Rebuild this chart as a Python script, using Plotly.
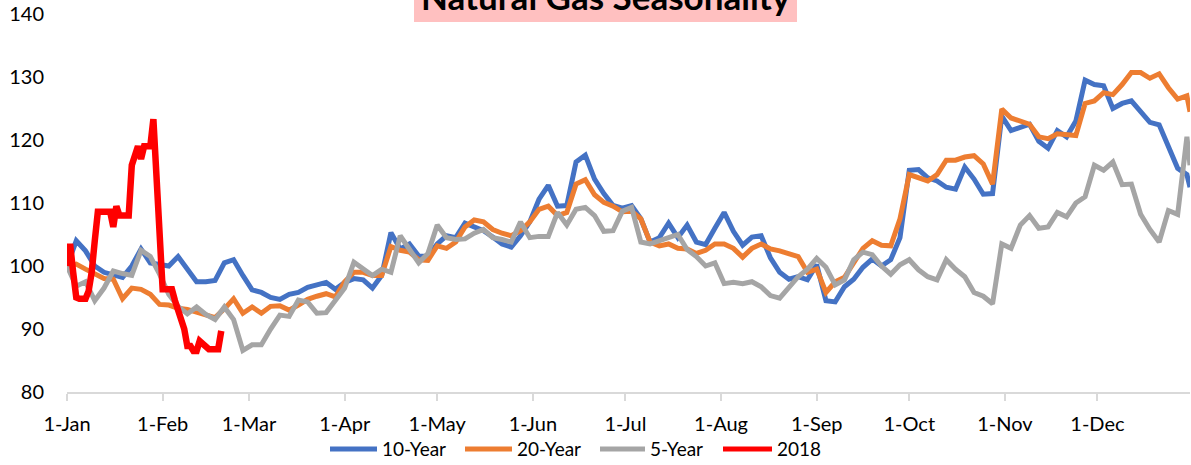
import pandas as pd
import plotly.graph_objects as go

# Seasonal index (1-Jan = 100), sampled every third calendar day through year end
grid_dates = list(pd.date_range("2018-01-01", "2018-12-30", freq="3D")) + [pd.Timestamp("2018-12-31")]

ten_year = [
    100, 104, 102.4, 100, 99, 98.5, 98.2, 100, 102.7, 100.5, 100.3, 100, 101.5, 99.5, 97.5, 97.5,
    97.7, 100.5, 101, 98.5, 96.2, 95.8, 95, 94.7, 95.5, 95.8, 96.6, 97, 97.4, 96.3, 97.4, 98,
    97.8, 96.5, 98.5, 105.3, 102.7, 103.5, 101.6, 101.5, 103.5, 104.8, 104.5, 106.8, 106.2, 105.6,
    104.6, 103.5, 103, 104.8, 107, 110.6, 112.8, 109.5, 109.6, 116.5, 117.6, 113.8, 111.5, 109.6,
    109.2, 109.6, 107.5, 103.8, 104.5, 106.8, 104.5, 106.5, 103.8, 103.4, 106, 108.5, 105.5, 103.3,
    104.6, 104.8, 101.3, 99, 97.9, 98.3, 97.8, 100.2, 94.5, 94.3, 96.7, 97.9, 99.8, 101.1, 100,
    101, 104.5, 115.2, 115.3, 114, 113.5, 112.5, 112.2, 115.7, 113.8, 111.4, 111.5, 123.8, 121.5,
    122, 122.5, 119.8, 118.7, 121.5, 120.5, 123, 129.5, 128.8, 128.6, 125, 125.8, 126.2, 124.5,
    122.8, 122.4, 119, 115.5, 114.5, 112.5,
]

twenty_year = [
    100, 100.3, 99.5, 98.8, 98, 97.9, 94.8, 96.5, 96.3, 95.5, 93.9, 93.8, 93.3, 93.1, 92.7, 92.2,
    91.8, 93.2, 94.8, 92.5, 93.5, 92.5, 93.6, 93.7, 93, 93.8, 94.7, 95.2, 95.6, 95.1, 97.5, 99,
    99, 98.5, 98.5, 103.1, 102.5, 102.2, 101, 100.9, 103.2, 102.8, 103.8, 106.2, 107.3, 107,
    105.8, 105.2, 104.8, 105.6, 107, 109, 109.5, 108, 108.5, 113, 113.7, 111.3, 110.1, 109.5,
    108.6, 108.7, 107.5, 103.8, 103.2, 103.5, 102.8, 102.7, 102, 102.5, 103.5, 103.5, 102.8, 101.4,
    102.8, 103.5, 102.7, 102.4, 101.9, 101.5, 99, 99.5, 95.8, 97.5, 98.2, 100.6, 102.8, 104, 103.3,
    103.2, 107.5, 114.5, 114.1, 113.5, 114.5, 116.8, 116.8, 117.3, 117.5, 116.2, 113, 124.9, 123.5,
    123, 122.5, 120.5, 120.2, 121, 120.9, 120.7, 125.8, 126.2, 127.5, 127.2, 128.8, 130.7, 130.7,
    129.8, 130.5, 128.3, 126.5, 127, 124.5,
]

five_year = [
    100, 96.8, 97.5, 94.5, 96.5, 99.2, 98.8, 98.5, 102.5, 101.5, 98.7, 95.5, 93.6, 92.4, 93.5, 92.3,
    91.5, 93.5, 91.5, 86.6, 87.5, 87.5, 90, 92.2, 92, 94.6, 94.3, 92.5, 92.6, 94.5, 96.5, 100.6,
    99.6, 98.5, 99.5, 99, 104.8, 102.5, 100.5, 102, 106.5, 104.5, 104.2, 104.3, 105.2, 105.8,
    104.5, 104.2, 103.8, 107, 104.5, 104.7, 104.7, 108.5, 106.5, 109, 109.3, 108, 105.5, 105.6,
    108.7, 109.3, 103.8, 103.5, 104, 104.5, 105, 102.6, 101.5, 100, 100.5, 97.2, 97.4, 97.2,
    97.5, 96.7, 95.3, 94.9, 96.5, 98.3, 99.5, 101.2, 99.8, 97, 97.8, 101, 102.2, 101.8, 100,
    98.7, 100.2, 101, 99.4, 98.3, 97.8, 101, 99.5, 98.3, 95.8, 95.2, 94, 103.5, 102.8,
    106.5, 108, 106, 106.2, 108.5, 107.8, 110, 111, 116, 115.2, 116.5, 112.9, 113, 108.2,
    105.8, 103.8, 108.8, 108.2, 120.5, 116,
]

# Current year, daily from 1-Jan to 20-Feb
dates_2018 = list(pd.date_range("2018-01-01", "2018-02-20", freq="D"))
year_2018 = [
    100, 103.5, 99, 95, 94.8, 94.8, 94.8, 96, 99, 104, 108.6, 108.6, 108.6, 108.6, 108.6,
    106.2, 109.5, 108, 108, 108, 108, 116, 118, 119, 117, 119, 119, 119, 123.3, 114, 104.8,
    96.3, 96.3, 96.3, 96.3, 94.5, 93.2, 91.6, 90, 87.3, 87.3, 86.5, 86.5, 88.1, 87.6, 87.3,
    86.8, 86.8, 86.8, 86.8, 89.7,
]

series_names = ["10-Year", "20-Year", "5-Year", "2018"]
series_colors = ["#4472C4", "#ED7D31", "#A5A5A5", "#FF0000"]
series_widths = [5, 5, 5, 6.5]
y_ticks = [80, 90, 100, 110, 120, 130, 140]

W, H = 1191, 465
M_L, M_R, M_T, M_B = 67, 1, 14, 73
PW, PH = W - M_L - M_R, H - M_T - M_B


def px(x):
    return (x - M_L) / PW


def py(y):
    return (H - M_B - y) / PH


fig = go.Figure()
xs = [grid_dates, grid_dates, grid_dates, dates_2018]
ys = [ten_year, twenty_year, five_year, year_2018]
for name, color, width, x, y in zip(series_names, series_colors, series_widths, xs, ys):
    fig.add_trace(go.Scatter(
        x=x, y=y, name=name, mode="lines",
        line=dict(color=color, width=width),
        showlegend=False,
    ))

# Title banner
fig.add_shape(type="rect", xref="paper", yref="paper",
              x0=px(414), x1=px(797), y0=py(22), y1=py(-10),
              fillcolor="#FFC0C0", line=dict(width=0), layer="below")
fig.add_annotation(text="<b>Natural Gas Seasonality</b>", xref="paper", yref="paper",
                   x=px(605.5), y=py(-4), xanchor="center", yanchor="middle",
                   showarrow=False, font=dict(size=35, color="#000000", family="Lato"))

# Legend row
legend_items = [(330, 377, 380), (465, 512, 515), (600, 645, 648), (723, 772, 775)]
for (lx0, lx1, tx), name, color in zip(legend_items, series_names, series_colors):
    fig.add_shape(type="line", xref="paper", yref="paper",
                  x0=px(lx0), x1=px(lx1), y0=py(449), y1=py(449),
                  line=dict(color=color, width=5))
    fig.add_annotation(text=name, xref="paper", yref="paper",
                       x=px(tx), y=py(449), xanchor="left", yanchor="middle",
                       showarrow=False, font=dict(size=19, color="#000000", family="Lato"))

fig.update_layout(
    width=W, height=H,
    margin=dict(l=M_L, r=M_R, t=M_T, b=M_B, pad=0),
    paper_bgcolor="white", plot_bgcolor="white",
    font=dict(family="Lato", size=20, color="#000000"),
    showlegend=False,
    xaxis=dict(
        type="date", range=["2018-01-01", "2018-12-31"],
        tick0="2018-01-01", dtick="M1", tickformat="%-d-%b",
        showgrid=False, zeroline=False,
        showline=True, linecolor="#D9D9D9", linewidth=1.5,
        ticks="outside", ticklen=7, tickcolor="#D9D9D9", tickwidth=1.5,
        ticklabelstandoff=6,
        tickfont=dict(size=20, family="Lato", color="#000000"),
    ),
    yaxis=dict(
        range=[80, 140], tickvals=y_ticks,
        showgrid=False, zeroline=False, showline=False, ticks="",
        ticklabelstandoff=22,
        tickfont=dict(size=20, family="Lato", color="#000000"),
    ),
)

fig.write_html("out.html")
